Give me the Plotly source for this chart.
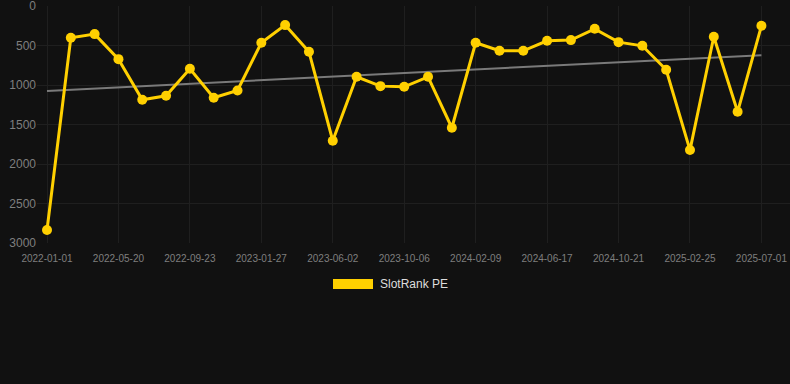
import numpy as np
import plotly.graph_objects as go

dates = ["2022-01-01", "2022-02-16", "2022-04-03", "2022-05-20", "2022-07-01", "2022-08-12",
         "2022-09-23", "2022-11-04", "2022-12-16", "2023-01-27", "2023-03-10", "2023-04-21",
         "2023-06-02", "2023-07-14", "2023-08-25", "2023-10-06", "2023-11-17", "2023-12-29",
         "2024-02-09", "2024-03-23", "2024-05-05", "2024-06-17", "2024-07-29", "2024-09-09",
         "2024-10-21", "2024-12-02", "2025-01-13", "2025-02-25", "2025-04-08", "2025-05-20",
         "2025-07-01"]
ranks = [2835, 401, 354, 671, 1186, 1135, 793, 1160, 1068, 464, 240, 578,
         1705, 895, 1013, 1021, 895, 1540, 464, 565, 565, 439, 430, 287,
         456, 502, 806, 1823, 388, 1338, 249]
tick_labels = dates[::3]
y_ticks = [0, 500, 1000, 1500, 2000, 2500, 3000]
series_name = "SlotRank PE"

idx = np.arange(len(ranks))
slope, intercept = np.polyfit(idx, ranks, 1)
trend = [intercept, intercept + slope * idx[-1]]

GOLD = "#FFD000"
GRID = "#1f1f1f"
TICK = "#7f7f7f"

fig = go.Figure()
fig.add_trace(go.Scatter(
    x=[dates[0], dates[-1]], y=trend, mode="lines",
    line=dict(color="#7a7a7a", width=2), showlegend=False, hoverinfo="skip"))
fig.add_trace(go.Scatter(
    x=dates, y=ranks, mode="lines+markers", name=series_name,
    line=dict(color=GOLD, width=3),
    marker=dict(color=GOLD, size=10), showlegend=False))

# legend drawn as a swatch + label below the plot
fig.add_shape(type="rect", xref="paper", yref="paper",
              x0=(333 - 37) / 753, x1=(373 - 37) / 753,
              y0=-(289 - 243) / 237, y1=-(279 - 243) / 237,
              fillcolor=GOLD, line=dict(width=0))
fig.add_annotation(text=series_name, xref="paper", yref="paper",
                   x=(378 - 37) / 753, y=-(284 - 243) / 237,
                   xanchor="left", yanchor="middle", showarrow=False,
                   font=dict(color="#dddddd", size=12))

fig.update_layout(
    width=790, height=384,
    paper_bgcolor="#111111", plot_bgcolor="#111111",
    margin=dict(l=37, r=0, t=6, b=141),
    font=dict(family="Liberation Sans, Arial, sans-serif", color=TICK, size=11),
    showlegend=False,
    xaxis=dict(type="category", categoryorder="array", categoryarray=dates,
               range=[-0.42, 31.2], tickvals=tick_labels, ticktext=tick_labels,
               showgrid=True, gridcolor=GRID, gridwidth=1, zeroline=False,
               showline=False, ticks="", ticklabelstandoff=8,
               tickfont=dict(size=10, color=TICK)),
    yaxis=dict(range=[3000, -2], tickvals=y_ticks,
               showgrid=True, gridcolor=GRID, gridwidth=1, zeroline=False,
               showline=False, ticks="", ticklabelstandoff=0, ticklabeloverflow="allow",
               tickfont=dict(size=12, color=TICK)),
)
fig.write_html("out.html", config={"displayModeBar": False},
               post_script="document.body.style.margin='0';")
